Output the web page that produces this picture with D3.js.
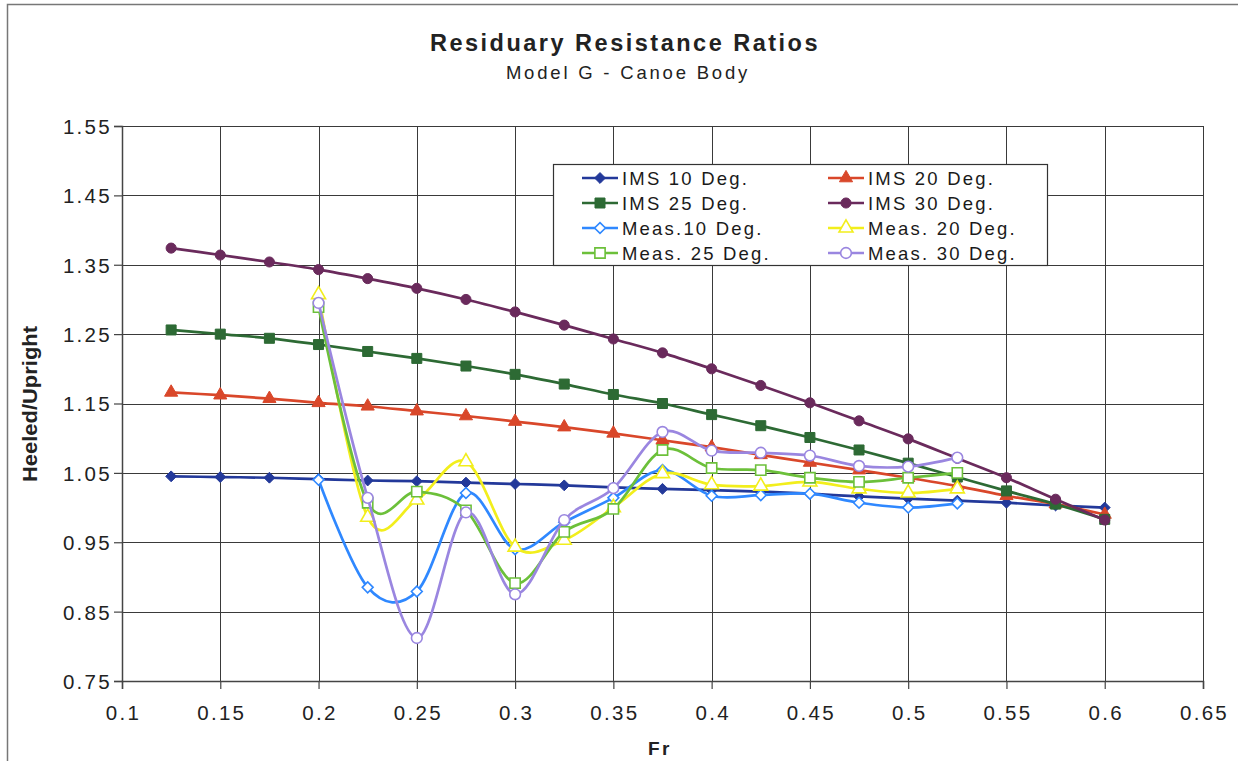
<!DOCTYPE html>
<html>
<head>
<meta charset="utf-8">
<script src="https://cdn.jsdelivr.net/npm/d3@7/dist/d3.min.js"></script>
<style>
  html, body { margin: 0; padding: 0; background: #fff; }
  svg { display: block; font-family: "Liberation Sans", Arial, sans-serif; }
</style>
</head>
<body>
<svg id="chart" width="1238" height="761"></svg>
<script>
// Froude numbers
const frIMS  = [0.125, 0.15, 0.175, 0.2, 0.225, 0.25, 0.275, 0.3, 0.325, 0.35,
                0.375, 0.4, 0.425, 0.45, 0.475, 0.5, 0.525, 0.55, 0.575, 0.6];
const frMeas = [0.2, 0.225, 0.25, 0.275, 0.3, 0.325, 0.35, 0.375, 0.4, 0.425,
                0.45, 0.475, 0.5, 0.525];

// IMS predictions (heeled / upright)
const ims10 = [1.045, 1.044, 1.043, 1.041, 1.039, 1.038, 1.036, 1.034, 1.032, 1.029,
               1.027, 1.025, 1.023, 1.020, 1.016, 1.013, 1.010, 1.007, 1.003, 1.000];
const ims20 = [1.166, 1.162, 1.157, 1.151, 1.146, 1.139, 1.132, 1.124, 1.116, 1.107,
               1.097, 1.087, 1.076, 1.065, 1.054, 1.043, 1.031, 1.017, 1.005, 0.990];
const ims25 = [1.256, 1.250, 1.244, 1.235, 1.225, 1.215, 1.204, 1.192, 1.178, 1.163,
               1.150, 1.134, 1.118, 1.101, 1.083, 1.064, 1.044, 1.024, 1.005, 0.983];
const ims30 = [1.374, 1.364, 1.354, 1.343, 1.330, 1.316, 1.300, 1.282, 1.263, 1.243,
               1.223, 1.200, 1.176, 1.151, 1.125, 1.099, 1.071, 1.043, 1.012, 0.982];

// Measured ratios
const meas10 = [1.040, 0.885, 0.879, 1.021, 0.940, 0.979, 1.014, 1.054, 1.017, 1.018,
                1.020, 1.007, 1.000, 1.006];
const meas20 = [1.307, 0.986, 1.011, 1.066, 0.943, 0.953, 1.000, 1.049, 1.033, 1.031,
                1.037, 1.027, 1.021, 1.027];
const meas25 = [1.289, 1.007, 1.023, 0.996, 0.891, 0.965, 0.998, 1.083, 1.057, 1.054,
                1.043, 1.037, 1.043, 1.050];
const meas30 = [1.295, 1.014, 0.812, 0.993, 0.875, 0.982, 1.028, 1.109, 1.082, 1.079,
                1.075, 1.060, 1.059, 1.072];

const seriesNames = ["IMS 10 Deg.", "IMS 20 Deg.", "IMS 25 Deg.", "IMS 30 Deg.",
                     "Meas.10 Deg.", "Meas. 20 Deg.", "Meas. 25 Deg.", "Meas. 30 Deg."];

const xTicks = [0.1, 0.15, 0.2, 0.25, 0.3, 0.35, 0.4, 0.45, 0.5, 0.55, 0.6, 0.65];
const xTickLabels = ["0.1", "0.15", "0.2", "0.25", "0.3", "0.35", "0.4", "0.45", "0.5", "0.55", "0.6", "0.65"];
const yTicks = [0.75, 0.85, 0.95, 1.05, 1.15, 1.25, 1.35, 1.45, 1.55];

// Square diamond (falls back to the tall diamond on older builds)
const diamond = d3.symbolDiamond2 || d3.symbolDiamond;

// Series styling
const series = [
  { name: seriesNames[0], x: frIMS,  y: ims10,  color: "#23399a", symbol: diamond,          size: 75, open: false },
  { name: seriesNames[1], x: frIMS,  y: ims20,  color: "#d9472a", symbol: d3.symbolTriangle, size: 75, open: false },
  { name: seriesNames[2], x: frIMS,  y: ims25,  color: "#2d6a34", symbol: d3.symbolSquare,   size: 100, open: false },
  { name: seriesNames[3], x: frIMS,  y: ims30,  color: "#6a2a5c", symbol: d3.symbolCircle,   size: 80, open: false },
  { name: seriesNames[4], x: frMeas, y: meas10, color: "#2f88ff", symbol: diamond,          size: 75, open: true },
  { name: seriesNames[5], x: frMeas, y: meas20, color: "#f2ee1c", symbol: d3.symbolTriangle, size: 85, open: true },
  { name: seriesNames[6], x: frMeas, y: meas25, color: "#6cc03a", symbol: d3.symbolSquare,   size: 105, open: true },
  { name: seriesNames[7], x: frMeas, y: meas30, color: "#9a86e0", symbol: d3.symbolCircle,   size: 90, open: true }
];

const svg = d3.select("#chart");
const plot = { left: 122, right: 1203, top: 126, bottom: 681 };

const x = d3.scaleLinear().domain([0.1, 0.65]).range([plot.left, plot.right]);
const y = d3.scaleLinear().domain([0.75, 1.55]).range([plot.bottom, plot.top]);

// Outer chart frame
svg.append("rect")
  .attr("x", 7.5).attr("y", 4.5).attr("width", 1240).attr("height", 770)
  .attr("fill", "none").attr("stroke", "#777").attr("stroke-width", 1.5);

// Titles
svg.append("text")
  .attr("x", 625).attr("y", 51).attr("text-anchor", "middle")
  .attr("font-size", 23.5).attr("font-weight", "bold").attr("letter-spacing", 2.5)
  .attr("fill", "#222")
  .text("Residuary Resistance Ratios");
svg.append("text")
  .attr("x", 628).attr("y", 79).attr("text-anchor", "middle")
  .attr("font-size", 18.5).attr("letter-spacing", 2.8)
  .attr("fill", "#222")
  .text("Model G - Canoe Body");

// Gridlines
const grid = svg.append("g").attr("stroke", "#3a3a3a").attr("stroke-width", 1);
grid.selectAll("line.v").data(xTicks.slice(1)).join("line")
  .attr("x1", d => Math.round(x(d)) + 0.5).attr("x2", d => Math.round(x(d)) + 0.5)
  .attr("y1", plot.top).attr("y2", plot.bottom);
grid.selectAll("line.h").data(yTicks.slice(1)).join("line")
  .attr("x1", plot.left).attr("x2", plot.right)
  .attr("y1", d => Math.round(y(d)) + 0.5).attr("y2", d => Math.round(y(d)) + 0.5);

// Axes
const xAxis = d3.axisBottom(x).tickValues(xTicks).tickSize(8)
  .tickFormat((d, i) => xTickLabels[i]);
const yAxis = d3.axisLeft(y).tickValues(yTicks).tickSize(8)
  .tickFormat(d3.format(".2f"));

const gx = svg.append("g").attr("transform", `translate(0,${plot.bottom})`).call(xAxis);
const gy = svg.append("g").attr("transform", `translate(${plot.left},0)`).call(yAxis);
[gx, gy].forEach(g => {
  g.select(".domain").attr("stroke", "#444").attr("stroke-width", 1.5);
  g.selectAll(".tick line").attr("stroke", "#444").attr("stroke-width", 1.2);
  g.selectAll(".tick text").attr("fill", "#222")
    .attr("font-size", 20.5).attr("letter-spacing", 2.3)
    .attr("font-family", "'Liberation Sans', Arial, sans-serif");
});
gx.selectAll(".tick text").attr("dy", "0").attr("y", 39).attr("dx", 1);
gy.selectAll(".tick text").attr("x", -10).attr("dy", "0.36em");

// Axis titles
svg.append("text")
  .attr("x", 660).attr("y", 755).attr("text-anchor", "middle")
  .attr("font-size", 19).attr("font-weight", "bold").attr("letter-spacing", 2.5)
  .attr("fill", "#222").text("Fr");
svg.append("text")
  .attr("transform", "translate(37,404) rotate(-90)").attr("text-anchor", "middle")
  .attr("font-size", 20).attr("font-weight", "bold")
  .attr("textLength", 156).attr("lengthAdjust", "spacingAndGlyphs")
  .attr("fill", "#222").text("Heeled/Upright");

// Series lines and markers
const line = d3.line().curve(d3.curveCardinal.tension(0));
series.forEach(s => {
  const pts = s.x.map((fx, i) => [x(fx), y(s.y[i])]);
  const g = svg.append("g");
  g.append("path")
    .attr("d", line(pts))
    .attr("fill", "none").attr("stroke", s.color).attr("stroke-width", 2.7)
    .attr("stroke-linejoin", "round");
  g.selectAll("path.m").data(pts).join("path")
    .attr("transform", d => `translate(${d[0]},${d[1]})`)
    .attr("d", d3.symbol(s.symbol, s.size)())
    .attr("fill", s.open ? "#fff" : s.color)
    .attr("stroke", s.color).attr("stroke-width", s.open ? 1.6 : 1);
});

// Legend
const legend = svg.append("g");
legend.append("rect")
  .attr("x", 553.5).attr("y", 164.5).attr("width", 494).attr("height", 101)
  .attr("fill", "#fff").attr("stroke", "#333").attr("stroke-width", 1.2);
const colX = [582, 828];
const rowY = [178, 203, 228, 253];
series.forEach((s, i) => {
  const lx = colX[i % 2], ly = rowY[Math.floor(i / 2)];
  const item = legend.append("g");
  item.append("line")
    .attr("x1", lx).attr("x2", lx + 36).attr("y1", ly).attr("y2", ly)
    .attr("stroke", s.color).attr("stroke-width", 2.7);
  item.append("path")
    .attr("transform", `translate(${lx + 18},${ly})`)
    .attr("d", d3.symbol(s.symbol, s.size)())
    .attr("fill", s.open ? "#fff" : s.color)
    .attr("stroke", s.color).attr("stroke-width", s.open ? 1.6 : 1);
  item.append("text")
    .attr("x", lx + 40).attr("y", ly).attr("dy", "0.37em")
    .attr("font-size", 18.5).attr("letter-spacing", 2.2)
    .attr("fill", "#1a1a1a").text(s.name);
});
</script>
</body>
</html>
